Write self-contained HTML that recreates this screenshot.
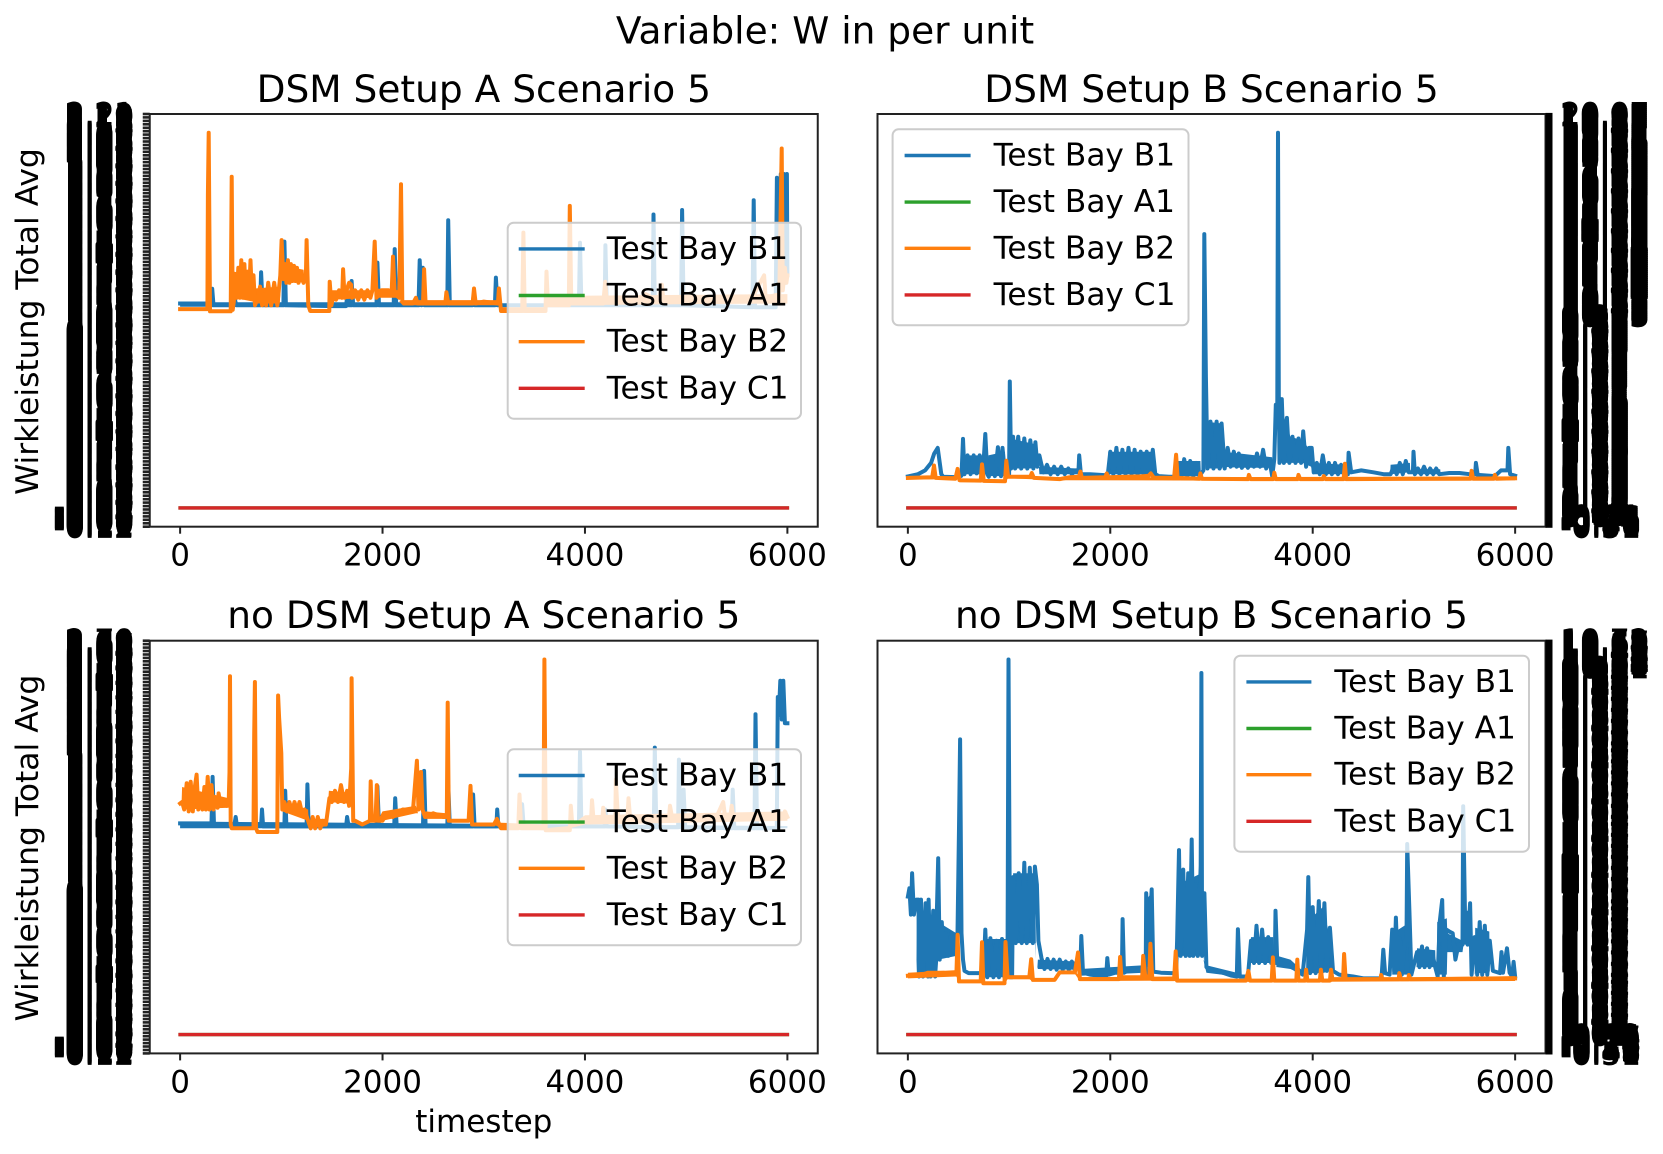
<!DOCTYPE html>
<html lang="en">
<head>
<meta charset="utf-8">
<title>Variable: W in per unit</title>
<style>
html,body{margin:0;padding:0;background:#fff;}
svg{display:block;}
text{font-family:"DejaVu Sans","Liberation Sans",sans-serif;fill:#000;}
.tick{font-size:31px;}
.ytl{stroke:#000;stroke-width:0.7px;}
.ttl{font-size:37.5px;}
.lg{font-size:31.2px;}
</style>
</head>
<body>
<svg id="fig" xmlns="http://www.w3.org/2000/svg" width="1663" height="1154" viewBox="0 0 1663 1154">
<rect x="0" y="0" width="1663" height="1154" fill="#fff"/>
<text class="ttl" x="825" y="43.5" text-anchor="middle">Variable: W in per unit</text>
<text class="ttl" x="483.8" y="102" text-anchor="middle">DSM Setup A Scenario 5</text>
<text class="ttl" x="1211.5" y="102" text-anchor="middle">DSM Setup B Scenario 5</text>
<text class="ttl" x="483.8" y="628" text-anchor="middle">no DSM Setup A Scenario 5</text>
<text class="ttl" x="1211.5" y="628" text-anchor="middle">no DSM Setup B Scenario 5</text>
<text class="tick" style="font-size:31.4px" transform="translate(38,321.5) rotate(-90)" text-anchor="middle">Wirkleistung Total Avg</text>
<text class="tick" style="font-size:31.4px" transform="translate(38,848) rotate(-90)" text-anchor="middle">Wirkleistung Total Avg</text>
<text class="tick" x="483.8" y="1132" text-anchor="middle">timestep</text>
<g id="plotA"></g>
<g id="plotB"></g>
<g id="plotC"></g>
<g id="plotD"></g>

<g transform="translate(507.7,222.7)">
<rect x="0" y="0" width="293.3" height="196" rx="6" fill="#fff" fill-opacity="0.8" stroke="#ccc" stroke-width="2"/>
<line x1="11" x2="77" y1="26.2" y2="26.2" stroke="#1f77b4" stroke-width="3.4"/><text class="lg" x="99" y="36.2">Test Bay B1</text>
<line x1="11" x2="77" y1="72.8" y2="72.8" stroke="#2ca02c" stroke-width="3.4"/><text class="lg" x="99" y="82.8">Test Bay A1</text>
<line x1="11" x2="77" y1="119" y2="119" stroke="#ff7f0e" stroke-width="3.4"/><text class="lg" x="99" y="129">Test Bay B2</text>
<line x1="11" x2="77" y1="165.6" y2="165.6" stroke="#d62728" stroke-width="3.4"/><text class="lg" x="99" y="175.6">Test Bay C1</text>
</g>

<g transform="translate(892.6,129.3)">
<rect x="0" y="0" width="295.9" height="196" rx="6" fill="#fff" fill-opacity="0.8" stroke="#ccc" stroke-width="2"/>
<line x1="12" x2="78" y1="26.2" y2="26.2" stroke="#1f77b4" stroke-width="3.4"/><text class="lg" x="101" y="36.2">Test Bay B1</text>
<line x1="12" x2="78" y1="72.8" y2="72.8" stroke="#2ca02c" stroke-width="3.4"/><text class="lg" x="101" y="82.8">Test Bay A1</text>
<line x1="12" x2="78" y1="119" y2="119" stroke="#ff7f0e" stroke-width="3.4"/><text class="lg" x="101" y="129">Test Bay B2</text>
<line x1="12" x2="78" y1="165.6" y2="165.6" stroke="#d62728" stroke-width="3.4"/><text class="lg" x="101" y="175.6">Test Bay C1</text>
</g>

<g transform="translate(507.7,749.3)">
<rect x="0" y="0" width="293.3" height="196" rx="6" fill="#fff" fill-opacity="0.8" stroke="#ccc" stroke-width="2"/>
<line x1="11" x2="77" y1="26.2" y2="26.2" stroke="#1f77b4" stroke-width="3.4"/><text class="lg" x="99" y="36.2">Test Bay B1</text>
<line x1="11" x2="77" y1="72.8" y2="72.8" stroke="#2ca02c" stroke-width="3.4"/><text class="lg" x="99" y="82.8">Test Bay A1</text>
<line x1="11" x2="77" y1="119" y2="119" stroke="#ff7f0e" stroke-width="3.4"/><text class="lg" x="99" y="129">Test Bay B2</text>
<line x1="11" x2="77" y1="165.6" y2="165.6" stroke="#d62728" stroke-width="3.4"/><text class="lg" x="99" y="175.6">Test Bay C1</text>
</g>

<g transform="translate(1234.4,655.7)">
<rect x="0" y="0" width="294.6" height="196" rx="6" fill="#fff" fill-opacity="0.8" stroke="#ccc" stroke-width="2"/>
<line x1="12" x2="77" y1="26.2" y2="26.2" stroke="#1f77b4" stroke-width="3.4"/><text class="lg" x="100" y="36.2">Test Bay B1</text>
<line x1="12" x2="77" y1="72.8" y2="72.8" stroke="#2ca02c" stroke-width="3.4"/><text class="lg" x="100" y="82.8">Test Bay A1</text>
<line x1="12" x2="77" y1="119" y2="119" stroke="#ff7f0e" stroke-width="3.4"/><text class="lg" x="100" y="129">Test Bay B2</text>
<line x1="12" x2="77" y1="165.6" y2="165.6" stroke="#d62728" stroke-width="3.4"/><text class="lg" x="100" y="175.6">Test Bay C1</text>
</g>
</svg>

<script>
// ---- shared axis data ----
const xTickValues = [0, 2000, 4000, 6000];
const xTickLabels = ["0", "2000", "4000", "6000"];
const flatTimes = [0, 6000];
const flatValuesC1 = [0, 0];
const flatValuesA1 = [0, 0];

// y tick label ranges (bottom label, top label, tick marks, printed labels)
const yTickRangeA = [-0.12, 2.21, 121, 401];
const yTickRangeB = [-0.51, 20.07, 260, 411];
const yTickRangeC = [-0.12, 2.70, 121, 401];
const yTickRangeD = [-0.51, 10.72, 260, 411];

// ---- Panel A: DSM Setup A (values normalised: C1 = 0, tallest peak = 100) ----
const timeA_B1 = [0,300,310,317,330,530,537,555,790,800,
815,1020,1030,1045,1520,1640,1650,1665,1690,1694,
1710,1940,1949,1965,2110,2120,2135,2355,2367,2385,
2398,2415,2640,2649,2665,2890,2900,2915,3110,3120,
3135,3940,3951,3965,4195,4202,4215,4670,4677,4690,
4950,4960,4975,5655,5667,5680,5885,5896,5915,5935,
5950,5965,5980,5995,6000];
const valueA_B1 = [54.5,54.5,54,58.4,54,54,56,54,54,62.8,
54,54,71,54,53.8,53.8,56.3,54,54,60.5,
54,54,65.4,54,54,69,54,54,66,54,
64,54,54,76.7,54,54,56.5,54,54,61.4,
54,54,70.7,54,54,70,54,54,78.2,54,
54,79.4,54,53.5,82,53.5,53.5,88,58,89,
58,89,60,89,62];
const bandTimeA_B1 = [0,3000,3001];
const bandLowA_B1 = [53.6,53.6,54];
const bandHighA_B1 = [54.8,54.8,54];
const timeA_B2 = [0,270,275,282,295,500,510,520,530,545,
560,575,590,605,620,635,650,665,680,695,
710,725,740,770,790,810,830,850,870,900,
930,960,990,1003,1020,1035,1050,1065,1080,1095,
1110,1125,1140,1155,1170,1190,1220,1243,1250,1267,1285,
1474,1478,1495,1510,1540,1570,1600,1610,1625,1645,
1670,1690,1700,1730,1760,1790,1820,1850,1880,1900,
1923,1940,1990,2060,2090,2103,2120,2165,2170,2182,
2195,2210,2300,2330,2345,2400,2411,2425,2620,2631,
2650,2890,2904,2920,3000,3140,3150,3170,3380,3392,
3405,3610,3620,3635,3840,3850,3865,4180,4200,4215,
4300,4500,4600,4730,4760,4775,5000,5300,5650,5770,
5785,5920,5944,5955,5975,5990,6000];
const valueA_B2 = [53,53,83.4,100,52.4,52.4,88.3,52.8,55,62,
56,64,56,66,56,65,56,63,56,66,
56,62,54,56,59,54,57,54,60,54,
60,54,62,71.4,61,65,60,66,60,65,
60.5,64.5,60.5,64,60,63,60,62,71.4,54,52.5,
52.5,60.3,54,56,55.5,58,56,63.6,56,58,
60,59.5,56,58,55.5,58,55.5,58,56,58,
71,56,58,58,57,67,57,56,64,86.3,
55,54.5,54.5,56,54.5,54.5,63.6,54.5,54.5,57.5,
54.5,54.5,58.5,54.5,55,54.5,58.5,52.5,52.5,73.4,
52.5,52.5,63,54,54,80.5,54.5,54.5,60.3,55,
56,55,57,55,59.5,55,56,55,56,62,
56,57,95.8,58,64,60,62];
const bandTimeA_B2 = [525,530,720,725,730,735,985,990,1015,1020,
1220,1225,1495,1500,1900,1905,1935,1940,2160,2165,
2200,3170,3175,3180,3610,3615,3640,6000];
const bandLowA_B2 = [60,56,55,57,57,54.5,54.5,57,62,60.5,
60,62,56,55.5,56,57,57,56,56,55,
54,54,53,52,52,55,54,54.5];
const bandHighA_B2 = [60,63,62,57,57,58.5,59,57,62,64.5,
63.5,62,56,58,58,57,57,58.5,58,55,
55.4,55.4,53,53.5,53.5,55,56.5,57];

// ---- Panel B: DSM Setup B ----
const timeB_B1 = [0,100,170,230,260,295,330,350,500,530,
545,560,590,620,650,680,710,740,765,785,
800,830,860,890,920,935,960,1000,1007,1020,1040,
1060,1090,1120,1150,1180,1210,1240,1260,1280,1300,
1320,1340,1375,1410,1445,1480,1515,1550,1585,1620,
1660,1686,1693,1710,1800,1900,1960,1975,2000,2030,2060,
2090,2120,2150,2180,2210,2240,2270,2300,2330,2360,
2390,2420,2445,2480,2580,2650,2670,2700,2730,2760,
2790,2820,2850,2880,2920,2929,2945,2960,2990,3020,3050,
3080,3100,3130,3160,3190,3220,3250,3270,3300,3330,
3360,3390,3420,3450,3480,3510,3540,3570,3600,3620,
3635,3650,3657,3665,3672,3695,3715,3745,3770,3800,3830,3860,
3885,3906,3935,3965,3990,4010,4040,4070,4100,4130,
4160,4190,4220,4250,4280,4310,4348,4355,4380,4480,4600,
4700,4770,4800,4830,4860,4890,4920,4950,4990,4996,5010,
5040,5070,5100,5130,5160,5190,5220,5250,5350,5450,
5550,5605,5612,5630,5800,5860,5925,5932,5950,6000];
const valueB_B1 = [8.4,9,10,12,14.5,16,9,8.3,8.2,8.6,
18.4,9,14,9,14,9.2,14,9,19.7,9,
8.3,13,8.5,16.2,8.5,16,9,9,33.7,10.5,19,
10.5,19,10.5,18.5,10.5,18,10.5,17.5,11,14,
11.5,9.5,11.5,9,11,9,11,9,10.5,9,
10,10,14,9,9,8.8,8.7,8.9,15,9,16,
9,15.5,9,16,9,15.5,9,15,9,15,
9,15.5,9,8.5,8.3,8.3,12,8.5,13,8.5,
12.5,8.5,12,8.5,10,73,35,10.5,23,10.5,23,
10.5,22.5,10.5,16,11,15,11,14.5,10.7,13,
10.7,13,11,14.5,11,15.5,10.5,13,8.5,13,
27.5,27.5,100,30,12,29,12,24,12,19,12,18.5,
12,20.4,11,16,16,9.5,12,9,14,9,
12,9,12,9,11.5,9,9,14.7,9.5,10,9.5,
9,9,11,9,12,9,12.5,9.5,9.5,15,9,
10.5,9,11,9,10.5,9,10.5,9,9.3,9.3,
9,9,12,8.8,8.5,10,10,16,9,8.6];
const bandTimeB_B1 = [525,530,780,785,790,795,960,965,1035,1040,
1260,1265,1295,1300,1680,1685,1975,1980,2440,2445,
2665,2670,2890,2895,2935,2940,3105,3110,3280,3600,3610,
3655,3660,3720,3780,3900,3985,4000,4320,4325,
4765,4770,4960,4965,5035,5040,5260,5265];
const bandLowB_B1 = [9,9,9,9,8.5,8.5,8.5,9,12,10.5,
10.5,11,11,9,9,9,9,9,9,9,
9,8.5,8.5,9,15,10.5,10.5,11,10.7,10.7,11,
12,12,12,12,12,11,9,9,9,
9,9,9.5,9,9,9,9,9];
const bandHighB_B1 = [9,14,14,9,8.5,14,15,9,12,18.3,
17,11,11,11,10.5,9,9,15,15,9,
9,12.5,12.5,9,15,23,22.5,15,14.5,13.5,11,
12,28,24,19,18,15,12,11.5,9,
9,11.5,12,9,9,10.3,10.3,9];
const timeB_B2 = [0,240,258,275,470,491,510,720,732,750,
960,973,990,1210,1225,1245,1500,1600,1690,1705,
1720,1950,1965,1980,2300,2380,2400,2430,2630,2650,
2665,2880,2890,2905,3360,3370,3385,3610,3620,3635,
3850,3860,3875,4100,4110,4125,4305,4318,4330,5560,
5570,5585,5790,5800,5815,6000];
const valueB_B2 = [8,8.2,11.3,8,7.8,10.4,7.4,7.3,11.6,7.2,
7.1,12.6,8.3,8.3,9.3,8,7.7,8.2,8.3,9.7,
8,8.2,9.2,8.2,8.4,8.6,9.2,8.1,8,14.2,
8,7.8,9.2,7.8,7.7,8.8,7.7,7.7,9.4,7.7,
7.7,8.8,7.7,7.7,8.5,7.7,7.7,11.8,7.7,7.8,
9.9,7.8,7.8,8.8,7.8,7.9];
const bandTimeB_B2 = [0,500,510,960,990,1500,3000,6000];
const bandLowB_B2 = [7.6,7.6,6.9,6.8,7.9,7.4,7.3,7.4];
const bandHighB_B2 = [8.5,8.5,7.6,7.5,8.7,8.2,8.2,8.4];

// ---- Panel C: no DSM Setup A ----
const timeC_B1 = [0,310,321,335,535,549,560,800,809,820,
1030,1038,1050,1250,1258,1270,1640,1650,1665,1940,
1949,1965,2115,2125,2140,2400,2411,2425,2640,2650,
2665,2885,2895,2910,3125,3133,3145,3370,3379,3395,
3940,3951,3965,4195,4202,4215,4680,4690,4705,4920,
4928,4945,4965,4975,4990,5450,5460,5475,5675,5685,
5700,5895,5905,5915,5930,5945,5960,5975,6000];
const valueC_B1 = [56.3,56.3,68.7,55.8,55.8,58,55.8,55.8,60,55.5,
55.5,65,55.5,55.5,66.7,55.5,55.5,58,55.5,55.5,
66.2,55.5,55.5,63,55.5,55.5,70.3,55.5,55.5,66.4,
55.5,55.5,64,55.5,55.5,60,55.5,55.5,61.4,55.5,
55.5,75.4,55.5,55.5,60,55.5,55.3,76.5,55.3,55.3,
73.3,55.3,55.3,65.3,55.3,55,65.3,55,55,85.4,
55,55,90,85,94.3,84,94.3,83,83];
const bandTimeC_B1 = [0,3000,6000];
const bandLowC_B1 = [55,55,55];
const bandHighC_B1 = [56.8,56.2,55.6];
const timeC_B2 = [0,20,40,65,85,105,125,145,163,180,
200,220,240,255,273,290,310,330,350,370,
380,400,430,460,480,488,493,500,510,725,
732,739,750,765,960,968,978,1000,1010,1030,
1055,1080,1105,1130,1155,1180,1205,1230,1265,1290,
1310,1335,1360,1385,1410,1440,1460,1475,1500,1530,
1560,1590,1620,1650,1670,1690,1694,1710,1730,1800,
1875,1883,1895,1930,1943,1955,2000,2040,2100,2200,
2300,2340,2355,2380,2395,2420,2500,2600,2635,2644,
2655,2850,2869,2885,3100,3130,3170,3340,3353,3370,
3590,3599,3612,3850,3860,3875,4060,4070,4085,4170,
4180,4195,4300,4305,4325,4420,4430,4445,4700,4830,
4840,4860,5300,5366,5385,5440,5450,5465,5960,5975,
6000];
const valueC_B2 = [61.6,62,60,67,59.5,67.4,59.5,66,69.3,60,
64,60,66,60,68.7,60,66.5,60,63,60.5,
64.3,61,62,61,62,70,95.5,56,55,55,
80,94,55,54,54,90.4,84.5,75,60,62,
59.5,62,59.5,62,59.5,62,59,60,57,55,
58,55,58,55,57,56,60,63,62,65,
62,66.5,62,65,61,71,95,57,57,56,
57,67.5,57,57,66.5,57,57,59,58,60,
59.5,73,60,70,60,58,59,58,58,88.5,
57,57,66.3,56,56,57.5,55,55,64,55,
55,100,54.5,54.5,61,56,57,62.5,57,57,
60.5,57,57,68,58,58,63,58,58,58,
61,58,58,62,58,59,61,58,58,59.5,
58];
const bandTimeC_B2 = [15,20,480,485,1005,1010,1265,1270,1285,1290,
1440,1445,1465,1470,1680,1685,1950,2000,2330,2350,
2420,2425,2630,2635,3100,3170,3590,3600,3850,4000,6000];
const bandLowC_B2 = [62,60,60.5,61,61,59.5,57,56,56,55,
55.5,58,63,62,61.5,60,57,57,59,59,
58,57.5,57.5,57,56,55,54.5,55,55,56,57];
const bandHighC_B2 = [62,66,63,61,61,62,60,56,56,57.5,
57.5,58,63,65,64.5,60,57,59.5,61,59,
58,59.5,59,57,56,56.5,56,55,55.6,58.5,59.5];

// ---- Panel D: no DSM Setup B ----
const timeD_B1 = [0,15,30,42,60,85,105,110,130,150,
175,200,205,225,250,270,285,300,315,335,
350,375,400,430,460,490,505,516,530,545,
560,600,650,690,720,745,765,785,815,845,
875,900,930,955,985,994,1010,1030,1040,1065,
1095,1125,1150,1175,1205,1235,1255,1275,1290,1320,
1350,1380,1410,1440,1470,1500,1530,1560,1590,1620,
1650,1680,1707,1714,1730,1800,1900,1960,1970,1985,2050,
2115,2122,2135,2200,2270,2320,2350,2355,2375,2409,2425,
2500,2600,2650,2660,2679,2695,2720,2745,2770,2785,
2804,2820,2845,2865,2893,2900,2907,2930,2950,3000,
3100,3200,3250,3261,3280,3360,3390,3420,3445,3470,
3500,3530,3560,3590,3625,3632,3650,3700,3800,3870,3900,
3945,3956,3975,4000,4030,4060,4085,4115,4140,4170,
4200,4260,4400,4500,4680,4697,4715,4760,4785,4805,
4822,4840,4860,4880,4910,4927,4934,4955,4975,5030,5055,
5080,5105,5130,5155,5180,5210,5235,5255,5279,5295,
5320,5350,5383,5410,5440,5480,5487,5505,5530,5555,5570,
5600,5625,5650,5675,5700,5725,5750,5780,5850,5865,
5880,5920,5945,5970,5985,6000];
const valueD_B1 = [36.8,39,32,43,32,36,36,15.5,36,15.5,
35,15.5,36,15.5,33,15.5,31,47,20,30,
21,27,21,27,21.5,27,55,78.7,27,20,
17,16.4,16.4,16.4,16.4,15.3,28,15.3,25.7,15.3,
25,15.3,25.5,15.3,25,100,15.3,15.3,42,24.4,
43,24.4,45.8,24.4,44.5,24.4,44.8,40,25,20.4,
17.5,20.2,17.5,20,17.3,20,17.3,19.5,17.3,19.5,
17.3,20,20,26.3,16.5,16,15.7,15.7,20.4,16,16.5,
16.5,30.8,16.5,17.5,17,18,16,37.7,20,38.7,16.8,
16.5,16.4,16.4,25,49.2,21,44,21,43,21,
52,21,40,21,45,96.4,21,37.7,18,17,
16.6,15.7,15.5,28.1,15.5,15.5,25,19.1,29,19.1,
28,19.1,26,19.1,19.1,33,19,19,18,16.5,16,
28,42,16.4,34,16.4,35.6,16.4,35,17,28.5,
17,16,15.5,15,15,22.6,16.4,16,28,17,
31.2,18,25.7,16,25,25,50.8,33,16,22,18,
23.5,18,23,18,22,18,15.5,30,35.9,15.5,
28,27.5,27,20,24,24,60.9,32,24,35,16,
26,16,30,16,29,16,25,17,16.4,22,
16.5,23,16.5,15.5,19.4,15.5];
const bandTimeD_B1 = [85,90,290,300,480,510,745,750,970,975,
1035,1040,1260,1265,1280,1285,1660,1665,1700,1705,2340,2345,2350,2355,
2415,2420,2660,2665,2900,2915,2920,2950,3250,3255,3385,3390,3610,3615,
3640,3650,3780,3900,3935,3940,4100,4170,4190,4785,4790,4960,4965,
5025,5030,5210,5215,5225,5230,5325,5330,5480,5490,
5495,5555,5560,5600,5605,5745,5750];
const bandLowD_B1 = [20,15.5,16,20,21,24,16,15.3,15.3,16,
30,24.4,24.4,20,18,17.5,17.3,17,16,15.7,16.5,17,20,18,
18,17,20,21,21,21,20,16.5,15.5,16,20,19.1,19.1,19,
18,18,17.5,16,16.4,16.4,16.4,17,17,16,16,16,16,
18,18,18,17,16,16,16,22,22,24,
24,24,16,16,16.4,16.4,17];
const bandHighD_B1 = [20,34,31,30,27,24,16,25.5,25.5,16,
30,43,43,20,18,20,19.5,17,16,17.5,18.5,17,20,36,
38,17,20,40,43,36,20,18.5,16.5,16,20,26,26,19,
18,21,20,17,16.4,30,34,26,17,16,27,30,16,
18,23,22.5,17,16,30,31,27,25,24,
33,33,16,16,28.5,27.5,17];
const timeD_B2 = [0,140,200,350,480,491,505,720,732,745,
955,965,985,1200,1219,1235,1450,1500,1650,1681,
1700,2085,2097,2110,2315,2325,2345,2385,2396,2415,
2630,2646,2660,3340,3365,3380,3595,3607,3620,3838,
3848,3860,3925,3935,3948,4070,4081,4095,4170,4181,
4195,4300,4310,4325,4670,4676,4690,4850,4856,4870,
4945,4950,4965,6000];
const valueD_B2 = [15.7,16,16.5,16.5,16,26.6,14.2,14.2,24.6,13.7,
13.7,24.7,15.3,15.3,20.1,14.6,14.6,16.6,16.6,21.9,
14.8,14.8,20.7,15.3,15.3,21,15.5,15.5,24.2,14.8,
14.8,22.2,14.4,14.4,17,14.4,14.4,20.6,14.4,14.4,
20,14.4,14.4,17.3,14.4,14.4,17.3,14.4,14.4,17.3,
14.8,14.8,21.5,14.8,14.8,15.9,14.8,14.8,16.4,14.8,
14.8,15.9,14.8,15];
const bandTimeD_B2 = [0,480,510,720,745,955,985,1200,1235,1450,
1500,1650,1700,2630,2660,4100,6000];
const bandLowD_B2 = [15,15.5,13.9,13.9,13.4,13.4,14.8,14.8,14.2,14.2,
16.2,16.2,14.3,14.4,14.1,14.1,14.3];
const bandHighD_B2 = [16.5,17.2,14.5,14.5,14,14,15.8,15.8,15,15,
17,17,15.3,15.5,14.7,14.9,15.6];

// ---- drawing ----
const SVGNS = "http://www.w3.org/2000/svg";
const colorB1 = "#1f77b4";
const colorA1 = "#2ca02c";
const colorB2 = "#ff7f0e";
const colorC1 = "#d62728";
const axisW = 668;
const axisH = 412.7;
// x domain and y domain include matplotlib's 5% margins
const xDomain = [-300, 6300];
const yDomain = [-5, 105];

function xScale(frame, t) {
  return frame.left + (t - xDomain[0]) / (xDomain[1] - xDomain[0]) * axisW;
}
function yScale(frame, v) {
  return frame.top + axisH - (v - yDomain[0]) / (yDomain[1] - yDomain[0]) * axisH;
}
function make(tag, parent) {
  const el = document.createElementNS(SVGNS, tag);
  parent.appendChild(el);
  return el;
}
function drawSeries(frame, parent, times, values, color, name, width) {
  const n = Math.min(times.length, values.length);
  let d = "";
  for (let i = 0; i < n; i++) {
    d += (i ? "L" : "M") + xScale(frame, times[i]).toFixed(1) + " " + yScale(frame, values[i]).toFixed(1);
  }
  const p = make("path", parent);
  p.setAttribute("d", d);
  p.setAttribute("fill", "none");
  p.setAttribute("stroke", color);
  p.setAttribute("stroke-width", width);
  p.setAttribute("stroke-linejoin", "round");
  p.setAttribute("stroke-linecap", "square");
  
  
}
// dense oscillation drawn as the min/max envelope
function drawBand(frame, parent, times, lows, highs, color, name) {
  const n = Math.min(times.length, lows.length, highs.length);
  let d = "";
  for (let i = 0; i < n; i++) {
    d += (i ? "L" : "M") + xScale(frame, times[i]).toFixed(1) + " " + yScale(frame, highs[i]).toFixed(1);
  }
  for (let i = n - 1; i >= 0; i--) {
    d += "L" + xScale(frame, times[i]).toFixed(1) + " " + yScale(frame, lows[i]).toFixed(1);
  }
  const p = make("path", parent);
  p.setAttribute("d", d + "Z");
  p.setAttribute("fill", color);
  p.setAttribute("stroke", "none");
  
  
}
function drawAxes(frame, parent, range) {
  const bottom = frame.top + axisH;
  const right = frame.left + axisW;

  const box = make("rect", parent);
  box.setAttribute("x", frame.left);
  box.setAttribute("y", frame.top);
  box.setAttribute("width", axisW);
  box.setAttribute("height", axisH);
  box.setAttribute("fill", "none");
  box.setAttribute("stroke", "#222");
  box.setAttribute("stroke-width", "2");
  
  

  xTickValues.forEach(function (t, i) {
    const x = xScale(frame, t);
    const tick = make("line", parent);
    tick.setAttribute("x1", x);
    tick.setAttribute("x2", x);
    tick.setAttribute("y1", bottom);
    tick.setAttribute("y2", bottom + 7);
    tick.setAttribute("stroke", "#222");
    tick.setAttribute("stroke-width", "2");
    
    
    const lab = make("text", parent);
    lab.setAttribute("class", "tick");
    lab.setAttribute("x", x);
    lab.setAttribute("y", bottom + 39);
    lab.setAttribute("text-anchor", "middle");
    
    
    lab.textContent = xTickLabels[i];
  });

  const low = range[0], high = range[1], tickCount = range[2], labelCount = range[3];
  for (let i = 0; i < tickCount; i++) {
    const y = bottom - i / (tickCount - 1) * axisH;
    const tick = make("line", parent);
    tick.setAttribute("y1", y.toFixed(1));
    tick.setAttribute("y2", y.toFixed(1));
    tick.setAttribute("x1", frame.rightAxis ? right : frame.left - 7);
    tick.setAttribute("x2", frame.rightAxis ? right + 7 : frame.left);
    tick.setAttribute("stroke", frame.rightAxis ? "#000" : "#222");
    tick.setAttribute("stroke-width", frame.rightAxis ? "2.2" : "2.6");
    
    
  }
  for (let i = 0; i < labelCount; i++) {
    const y = bottom - i / (labelCount - 1) * axisH;
    const lab = make("text", parent);
    lab.setAttribute("class", "tick ytl");
    lab.setAttribute("x", frame.rightAxis ? 1560.5 : 134);
    lab.setAttribute("y", (y + 11).toFixed(1));
    lab.setAttribute("text-anchor", frame.rightAxis ? "start" : "end");
    
    
    lab.textContent = (low + (high - low) * i / (labelCount - 1)).toFixed(2);
  }
}
function drawPanel(id, frame, range, b1, b2) {
  const g = document.getElementById(id);
  drawAxes(frame, g, range);
  const lines = make("g", g);
  
  
  drawBand(frame, lines, b1.bandTime, b1.bandLow, b1.bandHigh, colorB1, 'band-test-bay-b1');
  drawSeries(frame, lines, b1.time, b1.value, colorB1, 'line-test-bay-b1', "4");
  drawSeries(frame, lines, flatTimes, flatValuesA1, colorA1, 'line-test-bay-a1', "3.4");
  drawBand(frame, lines, b2.bandTime, b2.bandLow, b2.bandHigh, colorB2, 'band-test-bay-b2');
  drawSeries(frame, lines, b2.time, b2.value, colorB2, 'line-test-bay-b2', "4");
  drawSeries(frame, lines, flatTimes, flatValuesC1, colorC1, 'line-test-bay-c1', "3.4");
}

drawPanel("plotA", {left: 149.75, top: 114, rightAxis: false}, yTickRangeA,
  {time: timeA_B1, value: valueA_B1, bandTime: bandTimeA_B1, bandLow: bandLowA_B1, bandHigh: bandHighA_B1},
  {time: timeA_B2, value: valueA_B2, bandTime: bandTimeA_B2, bandLow: bandLowA_B2, bandHigh: bandHighA_B2});
drawPanel("plotB", {left: 877.5, top: 114, rightAxis: true}, yTickRangeB,
  {time: timeB_B1, value: valueB_B1, bandTime: bandTimeB_B1, bandLow: bandLowB_B1, bandHigh: bandHighB_B1},
  {time: timeB_B2, value: valueB_B2, bandTime: bandTimeB_B2, bandLow: bandLowB_B2, bandHigh: bandHighB_B2});
drawPanel("plotC", {left: 149.75, top: 640.7, rightAxis: false}, yTickRangeC,
  {time: timeC_B1, value: valueC_B1, bandTime: bandTimeC_B1, bandLow: bandLowC_B1, bandHigh: bandHighC_B1},
  {time: timeC_B2, value: valueC_B2, bandTime: bandTimeC_B2, bandLow: bandLowC_B2, bandHigh: bandHighC_B2});
drawPanel("plotD", {left: 877.5, top: 640.7, rightAxis: true}, yTickRangeD,
  {time: timeD_B1, value: valueD_B1, bandTime: bandTimeD_B1, bandLow: bandLowD_B1, bandHigh: bandHighD_B1},
  {time: timeD_B2, value: valueD_B2, bandTime: bandTimeD_B2, bandLow: bandLowD_B2, bandHigh: bandHighD_B2});
</script>
</body>
</html>
